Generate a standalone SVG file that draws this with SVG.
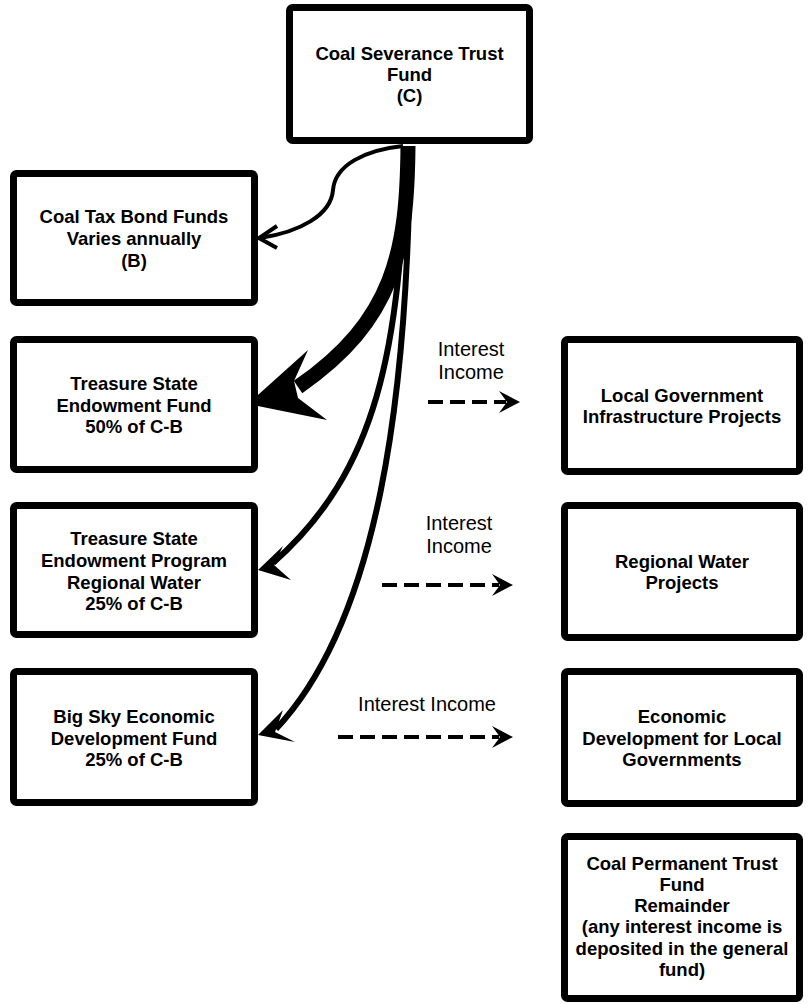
<svg xmlns="http://www.w3.org/2000/svg" width="810" height="1004" viewBox="0 0 810 1004">
  <style>
    .box { fill: #fff; stroke: #000; stroke-width: 7; }
    .t { font-family: "Liberation Sans", Arial, sans-serif; font-weight: bold; font-size: 18.5px; text-anchor: middle; fill: #000; }
    .lbl { font-family: "Liberation Sans", Arial, sans-serif; font-size: 20px; text-anchor: middle; fill: #000; }
    .flow { fill: none; stroke: #000; stroke-linecap: butt; }
    .head { fill: #000; stroke: none; }
    .dash { fill: none; stroke: #000; stroke-width: 4; stroke-dasharray: 15 7; }
  </style>
  <rect width="810" height="1004" fill="#fff"/>

  <!-- allocation flows out of the trust fund -->
  <g id="connectors">
    <!-- to bond funds -->
    <path class="flow" stroke-width="4" d="M 403 146 C 365 150 335 165 333 190 C 331 215 300 232 260 238"/>
    <polyline fill="none" stroke="#000" stroke-width="4" points="277,226 259,238 277,248"/>
    <!-- to endowment fund (heavy) -->
    <path class="flow" stroke-width="15" d="M 408 146 C 407 250 395 320 298 387"/>
    <polygon class="head" points="248,404 308,350 294,381 298,398 327,420"/>
    <!-- to regional water program -->
    <path class="flow" stroke-width="6" d="M 406 146 C 400 350 378 470 273 563"/>
    <polygon class="head" points="258,570 283,546 274,565 291,580"/>
    <!-- to big sky fund -->
    <path class="flow" stroke-width="6" d="M 410 146 C 408 400 378 620 276 729"/>
    <polygon class="head" points="258,735 283,710 275,732 295,742"/>

    <!-- interest income flows -->
    <line class="dash" x1="428" y1="402" x2="506" y2="402"/>
    <polygon class="head" points="520,402 499,391 507,402 499,413"/>
    <line class="dash" x1="382" y1="585" x2="499" y2="585"/>
    <polygon class="head" points="513,585 492,574 500,585 492,596"/>
    <line class="dash" x1="338" y1="737" x2="499" y2="737"/>
    <polygon class="head" points="513,737 492,726 500,737 492,748"/>
  </g>

  <g id="labels">
    <text class="lbl" x="471" y="356">Interest</text>
    <text class="lbl" x="471" y="379">Income</text>
    <text class="lbl" x="459" y="530">Interest</text>
    <text class="lbl" x="459" y="553">Income</text>
    <text class="lbl" x="427" y="711">Interest Income</text>
  </g>

  <g id="coal-severance">
    <rect class="box" x="289.5" y="7.5" width="240" height="133" rx="3"/>
    <text class="t" x="409.5" y="60">Coal Severance Trust</text>
    <text class="t" x="409.5" y="81">Fund</text>
    <text class="t" x="409.5" y="102">(C)</text>
  </g>

  <g id="coal-tax-bond">
    <rect class="box" x="13.5" y="173.5" width="241" height="129" rx="3"/>
    <text class="t" x="134" y="223">Coal Tax Bond Funds</text>
    <text class="t" x="134" y="245">Varies annually</text>
    <text class="t" x="134" y="267">(B)</text>
  </g>

  <g id="endowment-fund">
    <rect class="box" x="13.5" y="339.5" width="241" height="130" rx="3"/>
    <text class="t" x="134" y="390">Treasure State</text>
    <text class="t" x="134" y="411.5">Endowment Fund</text>
    <text class="t" x="134" y="433">50% of C-B</text>
  </g>

  <g id="endowment-water">
    <rect class="box" x="13.5" y="505.5" width="241" height="129" rx="3"/>
    <text class="t" x="134" y="545">Treasure State</text>
    <text class="t" x="134" y="567">Endowment Program</text>
    <text class="t" x="134" y="588.5">Regional Water</text>
    <text class="t" x="134" y="610">25% of C-B</text>
  </g>

  <g id="big-sky">
    <rect class="box" x="13.5" y="671.5" width="241" height="131" rx="3"/>
    <text class="t" x="134" y="723">Big Sky Economic</text>
    <text class="t" x="134" y="744.5">Development Fund</text>
    <text class="t" x="134" y="766">25% of C-B</text>
  </g>

  <g id="local-infrastructure">
    <rect class="box" x="564.5" y="339.5" width="235" height="132" rx="3"/>
    <text class="t" x="682" y="402">Local Government</text>
    <text class="t" x="682" y="423">Infrastructure Projects</text>
  </g>

  <g id="regional-water">
    <rect class="box" x="564.5" y="505.5" width="235" height="132" rx="3"/>
    <text class="t" x="682" y="568">Regional Water</text>
    <text class="t" x="682" y="589">Projects</text>
  </g>

  <g id="economic-development">
    <rect class="box" x="564.5" y="671.5" width="235" height="132" rx="3"/>
    <text class="t" x="682" y="723">Economic</text>
    <text class="t" x="682" y="744.5">Development for Local</text>
    <text class="t" x="682" y="766">Governments</text>
  </g>

  <g id="permanent-trust">
    <rect class="box" x="564.5" y="836.5" width="235" height="162" rx="3"/>
    <text class="t" x="682" y="870">Coal Permanent Trust</text>
    <text class="t" x="682" y="891">Fund</text>
    <text class="t" x="682" y="912">Remainder</text>
    <text class="t" x="682" y="933">(any interest income is</text>
    <text class="t" x="682" y="955">deposited in the general</text>
    <text class="t" x="682" y="976">fund)</text>
  </g>
</svg>
